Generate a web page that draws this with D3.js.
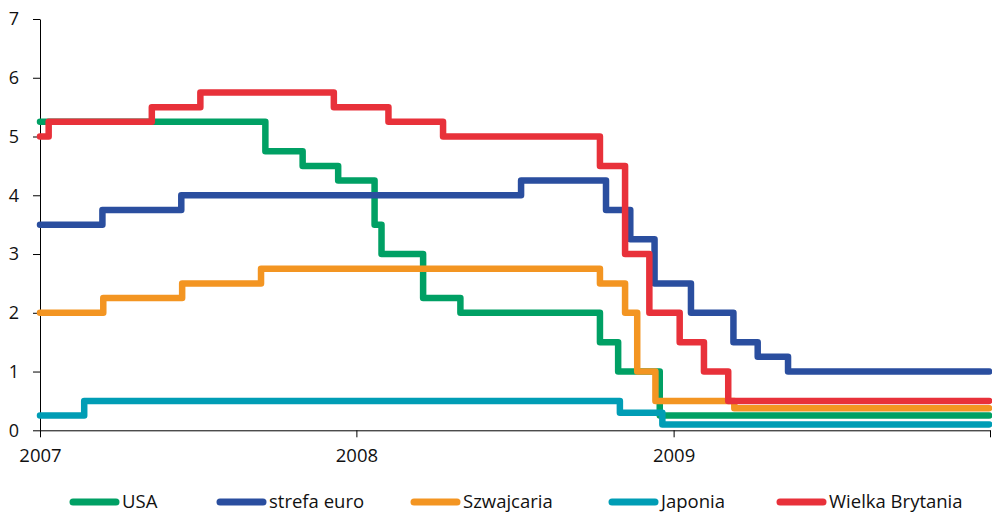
<!DOCTYPE html>
<html>
<head>
<meta charset="utf-8">
<script src="https://cdn.jsdelivr.net/npm/d3@7"></script>
<style>
  html, body { margin: 0; padding: 0; background: #fff; }
  svg { display: block; }
  text { font-family: "Open Sans", sans-serif; fill: #111; }
</style>
</head>
<body>
<svg id="chart" width="992" height="515"></svg>
<script>
// Central bank policy rates, 2007–2009 (change dates and new rate levels, %)
const seriesNames = ["USA", "strefa euro", "Szwajcaria", "Japonia", "Wielka Brytania"];
const seriesColors = ["#00A064", "#2A4E9F", "#F39522", "#009DB5", "#E8313A"];

const usaDates = ["2007-01-01", "2007-09-18", "2007-10-31", "2007-12-11", "2008-01-22", "2008-01-30",
                  "2008-03-18", "2008-04-30", "2008-10-08", "2008-10-29", "2008-12-16"];
const usaRates = [5.25, 4.75, 4.5, 4.25, 3.5, 3.0, 2.25, 2.0, 1.5, 1.0, 0.25];

const euroDates = ["2007-01-01", "2007-03-14", "2007-06-13", "2008-07-09", "2008-10-15", "2008-11-12",
                   "2008-12-10", "2009-01-21", "2009-03-11", "2009-04-08", "2009-05-13"];
const euroRates = [3.5, 3.75, 4.0, 4.25, 3.75, 3.25, 2.5, 2.0, 1.5, 1.25, 1.0];

const chDates = ["2007-01-01", "2007-03-15", "2007-06-14", "2007-09-13", "2008-10-08", "2008-11-06",
                 "2008-11-20", "2008-12-11", "2009-03-12"];
const chRates = [2.0, 2.25, 2.5, 2.75, 2.5, 2.0, 1.0, 0.5, 0.375];

const jpDates = ["2007-01-01", "2007-02-21", "2008-10-31", "2008-12-19"];
const jpRates = [0.25, 0.5, 0.3, 0.1];

const ukDates = ["2007-01-01", "2007-01-11", "2007-05-10", "2007-07-05", "2007-12-06", "2008-02-07",
                 "2008-04-10", "2008-10-08", "2008-11-06", "2008-12-04", "2009-01-08", "2009-02-05",
                 "2009-03-05"];
const ukRates = [5.0, 5.25, 5.5, 5.75, 5.5, 5.25, 5.0, 4.5, 3.0, 2.0, 1.5, 1.0, 0.5];

const endDate = "2009-12-31";
const yTicks = [0, 1, 2, 3, 4, 5, 6, 7];
const xTickLabels = ["2007", "2008", "2009", ""];

const parse = d3.timeParse("%Y-%m-%d");
function buildSeries(dates, rates) {
  const pts = dates.map((d, i) => ({ date: parse(d), value: rates[i] }));
  pts.push({ date: parse(endDate), value: rates[rates.length - 1] });
  return pts;
}
const allSeries = [
  buildSeries(usaDates, usaRates),
  buildSeries(euroDates, euroRates),
  buildSeries(chDates, chRates),
  buildSeries(jpDates, jpRates),
  buildSeries(ukDates, ukRates)
];

const svg = d3.select("#chart");
const margin = { left: 40 };

const x = d3.scaleTime()
  .domain([new Date(2007, 0, 1), new Date(2010, 0, 1)])
  .range([margin.left, 990]);
const y = d3.scaleLinear()
  .domain([0, 7])
  .range([430.3, 19]);

// Y axis
const yAxis = d3.axisLeft(y)
  .tickValues(yTicks)
  .tickFormat(d3.format("d"))
  .tickSizeInner(7).tickSizeOuter(0).tickPadding(14);
const gy = svg.append("g").attr("transform", `translate(${margin.left},0)`).call(yAxis);
gy.select(".domain").attr("stroke", "#000");
gy.selectAll(".tick line").attr("stroke", "#000");
gy.selectAll(".tick text").style("font-size", "18px").style("font-family", "'Open Sans', sans-serif").attr("fill", "#111");

// X axis
const xTickDates = [new Date(2007, 0, 1), new Date(2008, 0, 1), new Date(2009, 0, 1), new Date(2010, 0, 1)];
const xAxis = d3.axisBottom(x)
  .tickValues(xTickDates)
  .tickFormat((d, i) => xTickLabels[i])
  .tickSizeInner(7).tickSizeOuter(0).tickPadding(12);
const gx = svg.append("g").attr("transform", `translate(0,${y(0)})`).call(xAxis);
gx.select(".domain").attr("stroke", "#000");
gx.selectAll(".tick line").attr("stroke", "#000");
gx.selectAll(".tick text").style("font-size", "18.5px").style("font-family", "'Open Sans', sans-serif").attr("fill", "#111");

// Step lines
const line = d3.line()
  .x(d => x(d.date))
  .y(d => y(d.value))
  .curve(d3.curveStepAfter);

svg.append("g").selectAll("path.series")
  .data(allSeries)
  .join("path")
  .attr("class", "series")
  .attr("d", line)
  .attr("fill", "none")
  .attr("stroke", (d, i) => seriesColors[i])
  .attr("stroke-width", 6.5)
  .attr("stroke-linejoin", "round")
  .attr("stroke-linecap", "round");

// Legend
const legendX = [70, 217, 411, 609, 777];
const legend = svg.append("g");
seriesNames.forEach((name, i) => {
  const g = legend.append("g").attr("transform", `translate(${legendX[i]},502)`);
  g.append("line")
    .attr("x1", 3).attr("x2", 46).attr("y1", 0).attr("y2", 0)
    .attr("stroke", seriesColors[i])
    .attr("stroke-width", 7)
    .attr("stroke-linecap", "round");
  g.append("text")
    .attr("x", 52).attr("y", 0).attr("dy", "0.35em")
    .style("font-size", "18.5px")
    .text(name);
});
</script>
</body>
</html>
